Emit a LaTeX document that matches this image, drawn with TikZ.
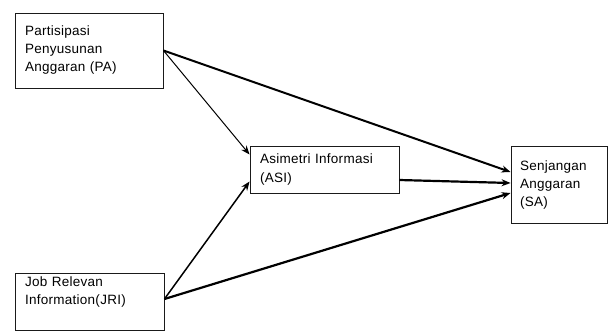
\documentclass[tikz,border=0pt]{standalone}
\usepackage{fontspec}
\setmainfont{Liberation Sans}[LetterSpace=2]
\usepackage{xcolor}
\usepackage{tikz}
\usetikzlibrary{arrows.meta}
\definecolor{varline}{HTML}{1a1a1a}

\begin{document}
\begin{tikzpicture}[x=1pt,y=-1pt,
  varbox/.style={draw=varline,line width=0.9pt,align=left,inner xsep=10pt,
    font=\fontsize{13.5}{18}\selectfont},
  path/.style={draw=black,-{Stealth[length=9pt,width=7pt]}}]
  \useasboundingbox (0,0) rectangle (609,330);
  \node[varbox,minimum width=148pt,minimum height=75pt,text width=128pt] (PA) at (89,50.5)
    {Partisipasi\\Penyusunan\\Anggaran (PA)};
  \node[varbox,minimum width=149pt,minimum height=47pt,text width=129pt] (ASI) at (324.5,169.5)
    {Asimetri Informasi\\(ASI)};
  \node[varbox,minimum width=96pt,minimum height=77pt,text width=78pt,inner xsep=9pt] (SA) at (559,184.5)
    {Senjangan\\Anggaran\\(SA)};
  \node[varbox,minimum width=149pt,minimum height=54pt,text width=129pt] (JRI) at (89.5,302)
    {Job Relevan\\Information(JRI)\\\strut};
  \draw[path,line width=1pt] (PA.east) -- ([yshift=15pt]ASI.west);
  \draw[path,line width=2pt] (PA.east) -- ([yshift=12.5pt]SA.west);
  \draw[path,line width=2.2pt] ([yshift=-10.5pt]ASI.east) -- ([yshift=1.5pt]SA.west);
  \draw[path,line width=1.5pt] ([yshift=3pt]JRI.east) -- ([yshift=-12pt]ASI.west);
  \draw[path,line width=2.2pt] ([yshift=3pt]JRI.east) -- ([yshift=-8.5pt]SA.west);
\end{tikzpicture}
\end{document}
